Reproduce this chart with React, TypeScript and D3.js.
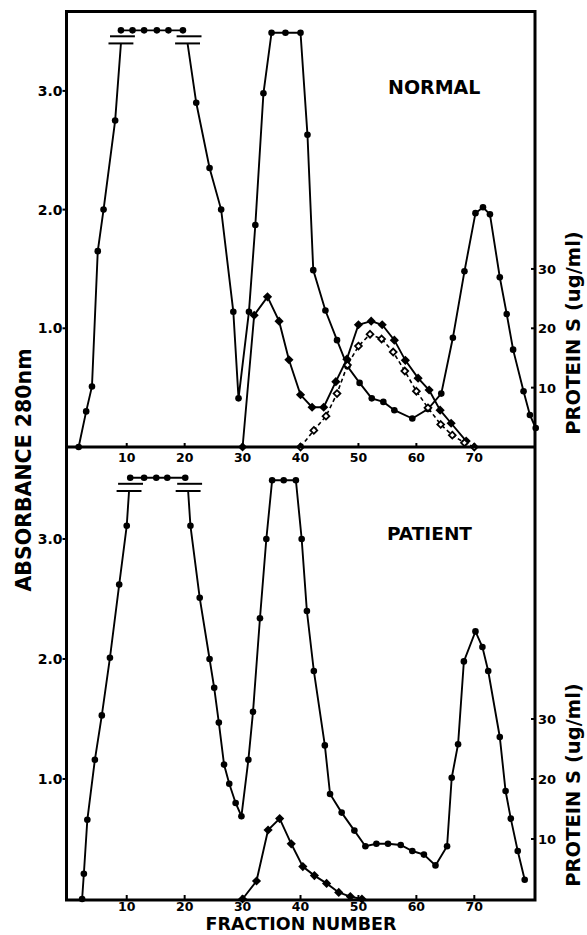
import React from 'react';
import * as d3 from 'd3';

// fraction numbers shown on both panels
const fractionTicks = [10, 20, 30, 40, 50, 60, 70];
const absorbanceTicks = [1, 2, 3];
const proteinTicks = [10, 20, 30];

// ---- NORMAL: absorbance 280nm (filled circles) ----
const normalRiseFraction = [1.7, 3, 4, 5, 6, 8];
const normalRiseA280 = [0, 0.3, 0.51, 1.65, 2.0, 2.75];
const normalPlateauFraction = [9, 11, 13, 15.2, 17.2, 19.7];
const normalFallFraction = [22, 24.3, 26.3, 28.4, 29.3, 31.1, 32.2, 33.6, 35, 37.4, 40, 41.2, 42.2, 44.3, 46.3, 48.1, 50.2, 52.3, 54.3, 56.2, 59.3, 62, 64.3, 66.3, 68.3, 70.2, 71.5, 72.7, 74.4, 75.6, 76.7, 78.5, 79.6, 80.6];
const normalFallA280 = [2.9, 2.35, 2.0, 1.14, 0.41, 1.14, 1.87, 2.98, 3.49, 3.49, 3.49, 2.63, 1.49, 1.15, 0.9, 0.68, 0.54, 0.41, 0.38, 0.31, 0.24, 0.32, 0.45, 0.92, 1.48, 1.97, 2.02, 1.96, 1.43, 1.12, 0.82, 0.47, 0.27, 0.16];
const normalBreakFraction = [9, 20.5];

// ---- NORMAL: protein S (ug/ml) ----
const normalTotalSFraction = [30, 32, 34.3, 36.3, 38, 40, 42, 44, 46.1, 48, 50, 52.2, 54.1, 56.2, 58.1, 60.3, 62.2, 64.1, 66, 68.6];
const normalTotalS = [0, 22.2, 25.3, 21.2, 14.7, 8.8, 6.7, 6.7, 11, 14.8, 20.6, 21.2, 20.6, 18, 14.6, 11.6, 9.6, 6.2, 4.0, 1.0];
const normalFreeSFraction = [40, 42.3, 44.4, 46.3, 48.1, 50, 52, 54, 56, 58, 60, 62, 64.2, 66.2, 68.3, 70];
const normalFreeS = [0, 2.8, 5.2, 9.0, 13.8, 17.0, 19.0, 18.2, 16.0, 12.8, 9.4, 6.6, 3.8, 2.0, 0.7, 0];

// ---- PATIENT: absorbance 280nm ----
const patientRiseFraction = [2.3, 2.6, 3.2, 4.5, 5.7, 7.1, 8.7, 10];
const patientRiseA280 = [0, 0.21, 0.66, 1.16, 1.53, 2.01, 2.62, 3.11];
const patientPlateauFraction = [10.6, 13, 15.1, 17, 20.1];
const patientFallFraction = [21, 22.6, 24.3, 25.1, 25.9, 26.8, 27.7, 28.8, 29.8, 31, 31.8, 33, 34.1, 35.1, 37.1, 39.2, 40.2, 41.1, 42.3, 44.2, 45.1, 47.1, 49.3, 51.2, 53.1, 55.1, 57.3, 59.3, 61.3, 63.3, 65.3, 66.1, 67.2, 68.2, 70.2, 71.4, 72.4, 74.4, 75.4, 76.3, 77.5, 78.7];
const patientFallA280 = [3.11, 2.51, 2.0, 1.76, 1.47, 1.12, 0.96, 0.8, 0.69, 1.16, 1.56, 2.34, 3.0, 3.49, 3.49, 3.49, 3.0, 2.4, 1.9, 1.28, 0.875, 0.72, 0.57, 0.44, 0.46, 0.46, 0.45, 0.4, 0.37, 0.28, 0.44, 1.01, 1.29, 1.98, 2.23, 2.1, 1.9, 1.35, 0.9, 0.67, 0.4, 0.16];
const patientBreakFraction = [10.4, 20.6];

// ---- PATIENT: protein S ----
const patientTotalSFraction = [30, 32.4, 34.4, 36.4, 38.4, 40.4, 42.4, 44.5, 46.6, 48.6, 50.6];
const patientTotalS = [0, 3.0, 11.5, 13.4, 9.2, 5.4, 3.9, 2.6, 1.1, 0.4, 0];

const offScale = 3.51;
const breakLow = 3.4;
const breakHigh = 3.46;

const W = 587;
const H = 935;
const left = 66.5;
const right = 535;
const top = 11.5;
const mid = 447;
const bottom = 900;
const font = "'DejaVu Sans', 'Liberation Sans', Arial, sans-serif";

const x = d3.scaleLinear().domain([0, 70]).range([68.8, 474.3]);

type Pt = [number, number];
const zip = (a: number[], b: number[]): Pt[] => a.map((v, i) => [v, b[i]]);

const diamond = (r: number) => `M0,${-r}L${r},0L0,${r}L${-r},0Z`;

interface PanelProps {
  label: string;
  labelX: number;
  labelY: number;
  labelSize: number;
  y0: number;
  pxPerUnit: number;
  tickLabelDy: number;
  rise: Pt[];
  plateau: number[];
  fall: Pt[];
  breaks: number[];
  totalS: Pt[];
  freeS?: Pt[];
}

const Panel: React.FC<PanelProps> = (p) => {
  const y = d3.scaleLinear().domain([0, 1]).range([p.y0, p.y0 - p.pxPerUnit]);
  // 20 ug/ml protein S == 1.0 absorbance unit on this figure
  const yS = d3.scaleLinear().domain([0, 20]).range([p.y0, p.y0 - p.pxPerUnit]);
  const line = d3.line<Pt>().x((d) => x(d[0])).y((d) => y(d[1]));
  const lineS = d3.line<Pt>().x((d) => x(d[0])).y((d) => yS(d[1]));

  const riseLine: Pt[] = [...p.rise, [p.breaks[0], breakLow]];
  const fallLine: Pt[] = [[p.breaks[1], breakLow], ...p.fall];
  const plateauPts: Pt[] = p.plateau.map((f) => [f, offScale]);

  return (
    <g>
      {/* break marks for off-scale readings */}
      {p.breaks.map((f, i) =>
        [breakLow, breakHigh].map((v, j) => (
          <line key={`b${i}${j}`} x1={x(f - 2.15) + j * 1.5} x2={x(f + 2.15) + j * 1.5} y1={y(v)} y2={y(v)} stroke="#000" strokeWidth={2} />
        ))
      )}
      <path d={line(riseLine) || ''} fill="none" stroke="#000" strokeWidth={1.9} />
      <path d={line(plateauPts) || ''} fill="none" stroke="#000" strokeWidth={1.9} />
      <path d={line(fallLine) || ''} fill="none" stroke="#000" strokeWidth={1.9} />
      <path d={lineS(p.totalS) || ''} fill="none" stroke="#000" strokeWidth={1.9} />
      {p.freeS && (
        <path d={lineS(p.freeS) || ''} fill="none" stroke="#000" strokeWidth={1.6} strokeDasharray="4 3" />
      )}
      {[...p.rise, ...plateauPts, ...p.fall].map((d, i) => (
        <circle key={`c${i}`} cx={x(d[0])} cy={y(d[1])} r={3.3} fill="#000" />
      ))}
      {p.totalS.map((d, i) => (
        <path key={`d${i}`} d={diamond(4.6)} transform={`translate(${x(d[0])},${yS(d[1])})`} fill="#000" />
      ))}
      {p.freeS &&
        p.freeS.map((d, i) => (
          <path key={`o${i}`} d={diamond(3.4)} transform={`translate(${x(d[0])},${yS(d[1])})`} fill="#fff" stroke="#000" strokeWidth={1.8} />
        ))}

      {/* left axis ticks */}
      {absorbanceTicks.map((t) => (
        <g key={`ya${t}`}>
          <line x1={left - 4} x2={left} y1={y(t)} y2={y(t)} stroke="#000" strokeWidth={2} />
          <text x={left - 4} y={y(t) + 5} textAnchor="end" fontSize={14} fontWeight="bold" fontFamily={font}>
            {d3.format('.1f')(t)}
          </text>
        </g>
      ))}
      {/* right axis ticks */}
      {proteinTicks.map((t) => (
        <g key={`ys${t}`}>
          <line x1={right - 4} x2={right} y1={yS(t)} y2={yS(t)} stroke="#000" strokeWidth={2} />
          <text x={right + 3} y={yS(t) + 5} fontSize={13} fontWeight="bold" fontFamily={font}>
            {t}
          </text>
        </g>
      ))}
      {/* fraction ticks */}
      {fractionTicks.map((t) => (
        <g key={`x${t}`}>
          <line x1={x(t)} x2={x(t)} y1={p.y0} y2={p.y0 - 4} stroke="#000" strokeWidth={2} />
          <text x={x(t)} y={p.y0 + p.tickLabelDy} textAnchor="middle" fontSize={12.5} fontWeight="bold" fontFamily={font}>
            {t}
          </text>
        </g>
      ))}
      <text x={p.labelX} y={p.labelY} fontSize={p.labelSize} fontWeight="bold" fontFamily={font}>
        {p.label}
      </text>
      <text
        transform={`translate(580,${p.y0 - 114}) rotate(-90)`}
        textAnchor="middle"
        fontSize={19.5}
        fontWeight="bold"
        fontFamily={font}
      >
        PROTEIN S (ug/ml)
      </text>
    </g>
  );
};

export default function App() {
  return (
    <svg width={W} height={H} style={{ position: 'absolute', left: 0, top: 0, background: '#fff' }}>
      <rect x={0} y={0} width={W} height={H} fill="#fff" />
      <Panel
        label="NORMAL"
        labelX={388}
        labelY={94}
        labelSize={19}
        y0={mid}
        pxPerUnit={118.7}
        tickLabelDy={15}
        rise={zip(normalRiseFraction, normalRiseA280)}
        plateau={normalPlateauFraction}
        fall={zip(normalFallFraction, normalFallA280)}
        breaks={normalBreakFraction}
        totalS={zip(normalTotalSFraction, normalTotalS)}
        freeS={zip(normalFreeSFraction, normalFreeS)}
      />
      <Panel
        label="PATIENT"
        labelX={387}
        labelY={540}
        labelSize={18.5}
        y0={bottom - 1}
        pxPerUnit={120}
        tickLabelDy={12}
        rise={zip(patientRiseFraction, patientRiseA280)}
        plateau={patientPlateauFraction}
        fall={zip(patientFallFraction, patientFallA280)}
        breaks={patientBreakFraction}
        totalS={zip(patientTotalSFraction, patientTotalS)}
      />
      {/* frame */}
      <rect x={left} y={top} width={right - left} height={bottom - top} fill="none" stroke="#000" strokeWidth={3} />
      <line x1={left} x2={right} y1={mid} y2={mid} stroke="#000" strokeWidth={3} />
      <text
        transform="translate(31,470) rotate(-90)"
        textAnchor="middle"
        fontSize={20.5}
        fontWeight="bold"
        fontFamily={font}
      >
        ABSORBANCE 280nm
      </text>
      <text x={301} y={930} textAnchor="middle" fontSize={17.5} fontWeight="bold" fontFamily={font}>
        FRACTION NUMBER
      </text>
    </svg>
  );
}
